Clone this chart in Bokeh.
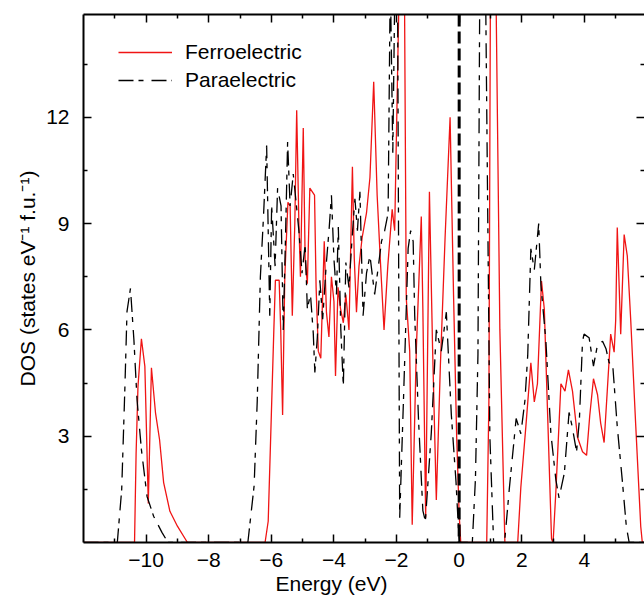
from bokeh.plotting import figure
from bokeh.models import Range1d, FixedTicker, LinearAxis, Span, Legend, LegendItem, Title
from bokeh.embed import file_html
from bokeh.resources import INLINE

FONT = "Liberation Sans"

# Ferroelectric DOS (energy in eV, states eV^-1 f.u.^-1)
ferro_energy = [
    -12.0, -10.45, -10.37, -10.32, -10.26, -10.15, -10.04, -9.93, -9.83, -9.70, -9.57, -9.44, -9.24, -9.00, -8.68,
    -6.20, -6.10, -6.00, -5.92, -5.87, -5.75, -5.70, -5.64, -5.57, -5.47, -5.40, -5.33, -5.25, -5.19, -5.12,
    -5.07, -4.98, -4.92, -4.85, -4.77, -4.62, -4.57, -4.50, -4.42, -4.31, -4.24, -4.16, -4.08, -4.00, -3.95,
    -3.87, -3.79, -3.70, -3.62, -3.52, -3.41, -3.35, -3.28, -3.20, -3.10, -2.96, -2.85, -2.73, -2.62, -2.52,
    -2.40, -2.28, -2.14, -2.06, -1.91, -1.75, -1.69, -1.58, -1.50, -1.37, -1.21, -1.16, -1.07, -0.95, -0.85,
    -0.73, -0.60, -0.45, -0.29, -0.18, -0.08, 0.00, 0.05,
    0.88, 0.95, 1.00, 1.17, 1.30, 1.46,
    1.87, 1.97, 2.13, 2.29, 2.40, 2.50, 2.63, 2.72, 2.82, 2.95, 3.00, 3.09, 3.25, 3.38, 3.49, 3.62, 3.78,
    3.94, 4.07, 4.17, 4.29, 4.42, 4.52, 4.63, 4.73, 4.84, 4.95, 5.00, 5.05, 5.16, 5.27, 5.37, 5.48, 5.64,
    5.80, 5.85, 6.0,
]
ferro_dos = [
    0.0, 0.0, 0.0, 2.5, 4.4, 5.75, 4.97, 1.1, 4.93, 3.66, 2.9, 1.69, 0.88, 0.46, 0.0,
    0.0, 0.6, 3.6, 6.0, 7.4, 7.4, 6.0, 3.6, 7.5, 9.6, 9.5, 6.4, 9.0, 12.2, 9.0,
    7.5, 11.7, 8.0, 7.3, 10.0, 9.8, 7.2, 5.4, 5.2, 8.5, 6.5, 5.8, 7.5, 6.8, 4.7,
    7.2, 6.6, 6.2, 7.0, 6.0, 10.6, 8.0, 6.5, 7.8, 8.6, 9.3, 10.3, 13.0, 9.8, 8.0,
    6.0, 7.8, 9.4, 8.8, 16.0, 16.0, 6.9, 5.4, 0.5, 5.4, 9.2, 6.6, 0.7, 9.9, 5.5,
    1.2, 5.0, 8.6, 12.0, 7.0, 3.0, 0.8, 0.0,
    0.0, 4.0, 16.0, 16.0, 6.0, 0.0,
    0.0, 1.56, 3.27, 5.07, 3.97, 4.48, 7.38, 6.58, 3.77, 0.1, 0.0, 1.46, 4.48, 4.27, 4.87, 4.27, 2.97,
    2.56, 2.46, 3.57, 4.62, 4.17, 3.37, 2.82, 4.27, 5.88, 5.37, 6.28, 8.89, 5.88, 8.69, 8.09, 6.28, 3.3,
    0.45, 0.0, 0.0,
]

# Paraelectric DOS
para_energy = [
    -12.0, -10.92, -10.78, -10.68, -10.61, -10.50, -10.39, -10.29, -10.15, -9.97, -9.76, -9.49, -9.30,
    -6.75, -6.55, -6.45, -6.35, -6.25, -6.15, -6.05, -5.99, -5.88, -5.80, -5.69, -5.62, -5.55, -5.48, -5.40,
    -5.30, -5.22, -5.12, -5.02, -4.92, -4.85, -4.75, -4.66, -4.61, -4.53, -4.45, -4.36, -4.25, -4.15, -4.08,
    -4.00, -3.92, -3.86, -3.78, -3.70, -3.62, -3.52, -3.42, -3.33, -3.25, -3.17, -3.07, -2.96, -2.85, -2.70,
    -2.58, -2.48, -2.38, -2.27, -2.20, -2.12, -2.05, -1.97, -1.90, -1.78, -1.63, -1.55, -1.47, -1.42, -1.30,
    -1.16, -1.08, -0.89, -0.73, -0.57, -0.41, -0.25, -0.10, 0.00,
    0.42, 0.52, 0.60, 0.66, 0.84, 0.98, 1.10,
    1.45, 1.60, 1.82, 1.97, 2.10, 2.19, 2.29, 2.40, 2.54, 2.61, 2.77, 2.93, 3.09, 3.19, 3.36, 3.51, 3.61,
    3.75, 3.84, 3.94, 3.99, 4.15, 4.29, 4.42, 4.58, 4.69, 4.79, 4.90, 5.05, 5.21, 5.34, 5.43, 6.0,
]
para_dos = [
    0.0, 0.0, 1.49, 4.31, 6.52, 7.17, 5.72, 4.03, 2.62, 1.3, 0.74, 0.28, 0.0,
    0.0, 1.6, 4.0, 7.5, 9.2, 11.2, 6.4, 9.5, 7.8, 10.0, 9.5, 6.0, 8.5, 11.3, 9.5,
    10.4, 9.7, 8.8, 7.6, 8.4, 6.6, 7.0, 5.9, 4.8, 5.8, 7.4, 6.3, 7.8, 8.9, 9.8,
    8.0, 7.0, 8.9, 6.0, 4.4, 7.9, 7.2, 8.6, 9.7, 8.8, 9.9, 6.4, 7.6, 8.1, 7.0,
    7.8, 8.5, 8.8, 9.3, 16.0, 11.0, 16.0, 16.0, 0.7, 4.0, 8.3, 8.8, 8.5, 6.4, 3.5,
    0.9, 0.6, 3.1, 6.0, 5.4, 6.5, 3.6, 1.7, 0.0,
    0.0, 1.8, 5.3, 16.0, 16.0, 3.0, 0.0,
    0.0, 1.5, 3.5, 3.07, 4.0, 5.28, 8.29, 7.69, 9.0, 7.28, 5.68, 3.07, 1.76, 1.26, 1.96, 3.67, 3.27,
    2.56, 3.46, 5.68, 5.88, 5.78, 4.98, 5.58, 5.68, 5.47, 5.07, 5.07, 3.27, 1.76, 0.45, 0.0, 0.0,
]

x_major = [-10, -8, -6, -4, -2, 0, 2, 4]
x_minor = [-11, -9, -7, -5, -3, -1, 1, 3, 5]
y_major = [3, 6, 9, 12]
y_minor = [1.5, 4.5, 7.5, 10.5, 13.5]
fermi_level = 0.0

p = figure(width=644, height=598, x_range=Range1d(-12, 5.92), y_range=Range1d(0, 14.9),
           output_backend="svg", toolbar_location=None,
           min_border_left=83, min_border_right=0, min_border_top=14, min_border_bottom=56)
p.outline_line_color = None
p.xgrid.visible = False
p.ygrid.visible = False

r_ferro = p.line(ferro_energy, ferro_dos, line_color="#f01414", line_width=1.3)
r_para = p.line(para_energy, para_dos, line_color="black", line_width=1.3, line_dash="15 5 5 8")

p.add_layout(Span(location=fermi_level, dimension="height", line_color="black",
                  line_width=3, line_dash="12 5"))


def style_axis(ax):
    ax.major_tick_in = 8
    ax.major_tick_out = 0
    ax.minor_tick_in = 4
    ax.minor_tick_out = 0
    ax.axis_line_width = 2
    ax.axis_line_color = "black"
    ax.major_tick_line_width = 1.5
    ax.minor_tick_line_width = 1.5
    ax.major_tick_line_color = "black"
    ax.minor_tick_line_color = "black"
    ax.major_label_text_font = FONT
    ax.major_label_text_font_size = "21px"
    ax.major_label_text_color = "black"
    ax.axis_label_text_font = FONT
    ax.axis_label_text_font_size = "21px"
    ax.axis_label_text_font_style = "normal"
    ax.axis_label_text_color = "black"


xa = p.xaxis[0]
xa.ticker = FixedTicker(ticks=x_major, minor_ticks=x_minor)
xa.major_label_overrides = {t: ("\u2212" + str(-t) if t < 0 else str(t)) for t in x_major}
style_axis(xa)
xa.major_label_standoff = 10

ya = p.yaxis[0]
ya.ticker = FixedTicker(ticks=y_major, minor_ticks=y_minor)
style_axis(ya)
ya.major_label_standoff = 14
ya.axis_label = "DOS (states eV\u207b\u00b9 f.u.\u207b\u00b9)"
ya.axis_label_standoff = 4

top = LinearAxis(ticker=FixedTicker(ticks=x_major, minor_ticks=x_minor))
style_axis(top)
top.major_label_text_font_size = "0px"
top.major_label_standoff = 0
p.add_layout(top, "above")

right = LinearAxis(ticker=FixedTicker(ticks=y_major, minor_ticks=y_minor))
style_axis(right)
right.axis_line_color = None
right.major_label_text_font_size = "0px"
right.major_label_standoff = 0
p.add_layout(right, "right")

p.add_layout(Title(text="Energy (eV)", align="left", offset=192, text_font=FONT,
                   text_font_size="21px", text_font_style="normal", text_color="black",
                   standoff=0), "below")

legend = Legend(items=[LegendItem(label="Ferroelectric", renderers=[r_ferro]),
                       LegendItem(label="Paraelectric", renderers=[r_para])],
                location=(35, 448), orientation="vertical", glyph_width=54, glyph_height=28,
                label_height=28, label_standoff=13, spacing=0, padding=0, margin=0,
                border_line_color=None, background_fill_alpha=0,
                label_text_font=FONT, label_text_font_size="21px", label_text_color="black")
p.add_layout(legend)

open("out.html", "w").write(file_html(p, INLINE))
